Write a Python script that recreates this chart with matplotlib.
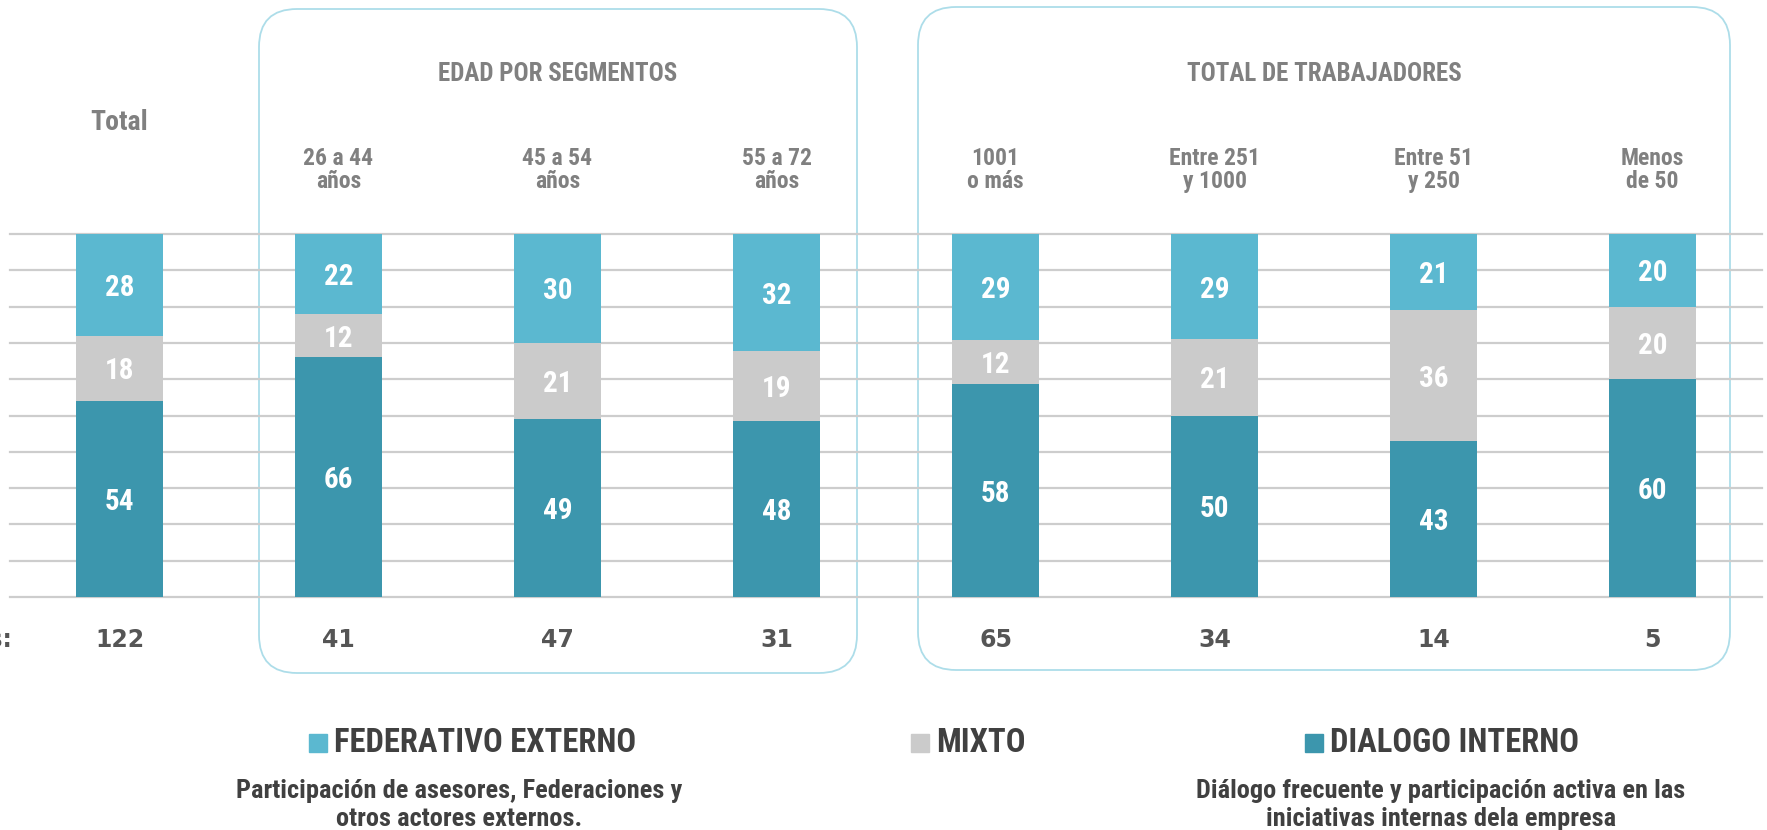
import matplotlib
matplotlib.use("Agg")
import matplotlib.pyplot as plt
import matplotlib.transforms as mtransforms
from matplotlib.patches import FancyBboxPatch, Rectangle
import numpy as np

cond = ['Liberation Sans Narrow', 'Roboto Condensed', 'Liberation Sans', 'DejaVu Sans']

# ---- data ----
groups = ["Total", "26 a 44\naños", "45 a 54\naños", "55 a 72\naños",
          "1001\no más", "Entre 251\ny 1000", "Entre 51\ny 250", "Menos\nde 50"]
interno = [54, 66, 49, 48, 58, 50, 43, 60]
mixto = [18, 12, 21, 19, 12, 21, 36, 20]
federativo = [28, 22, 30, 32, 29, 29, 21, 20]
respuestas = [122, 41, 47, 31, 65, 34, 14, 5]

c_fed = "#5BB8D0"
c_mix = "#CBCBCB"
c_int = "#3C96AD"
c_grid = "#CDCDCD"
c_box = "#ADDDE9"
c_head = "#808080"
c_dark = "#404040"

W, H = 1767, 830
fig = plt.figure(figsize=(W / 100, H / 100), dpi=100)

# pixel overlay for boxes and text
ov = fig.add_axes([0, 0, 1, 1], zorder=0)
ov.set_xlim(0, W)
ov.set_ylim(0, H)
ov.axis("off")

# bar axes
ax = fig.add_axes([10 / W, (H - 597) / H, 1752 / W, 363 / H], zorder=1)
ax.patch.set_alpha(0)
ax.set_xlim(-0.5, 7.5)
ax.set_ylim(0, 100)
for s in ax.spines.values():
    s.set_visible(False)
ax.set_yticks(np.arange(0, 101, 10))
ax.set_xticks([])
ax.tick_params(length=0, labelleft=False)
ax.grid(axis="y", color=c_grid, lw=1.6, zorder=0)
ax.set_axisbelow(True)
for gl in ax.get_ygridlines():
    gl.set_clip_on(False)

x = np.arange(len(groups))
tot = np.array(interno) + np.array(mixto) + np.array(federativo)
p_int = np.array(interno) / tot * 100
p_mix = np.array(mixto) / tot * 100
p_fed = np.array(federativo) / tot * 100
bw = 0.397
ax.bar(x, p_int, bw, color=c_int, zorder=2)
ax.bar(x, p_mix, bw, bottom=p_int, color=c_mix, zorder=2)
ax.bar(x, p_fed, bw, bottom=p_int + p_mix, color=c_fed, zorder=2)

for i in range(len(groups)):
    for val, b, h in [(interno[i], 0, p_int[i]), (mixto[i], p_int[i], p_mix[i]),
                      (federativo[i], p_int[i] + p_mix[i], p_fed[i])]:
        ax.text(x[i], b + h / 2, str(val), ha="center", va="center_baseline", color="white",
                fontsize=21, fontweight="bold", family=cond, zorder=3)

# x in bar data, y in pixels (from bottom)
tr = mtransforms.blended_transform_factory(ax.transData, ov.transData)

# rounded group boxes
for x0, x1, top, bot in [(259, 857, 9, 673), (918, 1730, 7, 670)]:
    ov.add_patch(FancyBboxPatch((x0 + 38, H - bot + 38), x1 - x0 - 76, bot - top - 76,
                                boxstyle="round,pad=38", fc="none", ec=c_box, lw=1.3))

# headers
ov.text(x[0], H - 122, groups[0], transform=tr, ha="center", va="center",
        fontsize=20, fontweight="bold", color=c_head, family=cond)
ov.text(x[1:4].mean(), H - 74, "EDAD POR SEGMENTOS", transform=tr, ha="center", va="center",
        fontsize=18, fontweight="bold", color=c_head, family=cond)
ov.text(x[4:8].mean(), H - 74, "TOTAL DE TRABAJADORES", transform=tr, ha="center", va="center",
        fontsize=18, fontweight="bold", color=c_head, family=cond)
for i in range(1, len(groups)):
    ov.text(x[i], H - 170, groups[i], transform=tr, ha="center", va="center",
            fontsize=17, fontweight="bold", color=c_head, family=cond, linespacing=1.05)

# respuestas row
ov.text(12, H - 640, "Nº de respuestas:", ha="right", va="center", fontsize=17,
        fontweight="bold", color="#555555", family="DejaVu Sans")
for i, n in enumerate(respuestas):
    ov.text(x[i], H - 640, str(n), transform=tr, ha="center", va="center", fontsize=17,
            fontweight="bold", color="#555555", family="DejaVu Sans")

# legend
for sx, col, lab in [(309, c_fed, "FEDERATIVO EXTERNO"), (911, c_mix, "MIXTO"),
                     (1305, c_int, "DIALOGO INTERNO")]:
    ov.add_patch(Rectangle((sx, H - 752), 18, 18, color=col))
    ov.text(sx + 25, H - 743, lab, ha="left", va="center", fontsize=23.5,
            fontweight="bold", color=c_dark, family=cond)

ov.text(459, H - 805, "Participación de asesores, Federaciones y\notros actores externos.",
        ha="center", va="center", fontsize=19, fontweight="bold", color=c_dark,
        family=cond, linespacing=1.25)
ov.text(1441, H - 805, "Diálogo frecuente y participación activa en las\niniciativas internas dela empresa",
        ha="center", va="center", fontsize=19, fontweight="bold", color=c_dark,
        family=cond, linespacing=1.25)

fig.savefig("out.png", dpi=100)
